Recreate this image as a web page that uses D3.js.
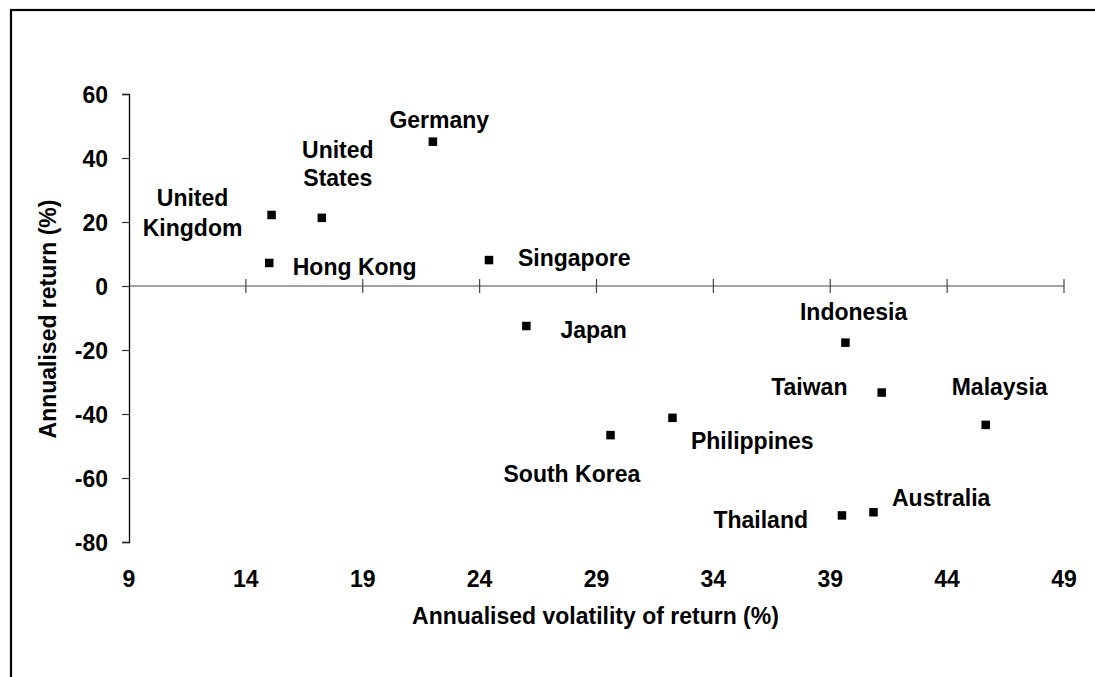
<!DOCTYPE html>
<html>
<head>
<meta charset="utf-8">
<script src="https://cdn.jsdelivr.net/npm/d3@7"></script>
<style>
  html, body { margin: 0; padding: 0; background: #fff; overflow: hidden; }
  svg { display: block; }
  text { font-family: "Liberation Sans", Arial, sans-serif; font-weight: bold; fill: #000; }
</style>
</head>
<body>
<svg id="chart" width="1095" height="677"></svg>
<script>
// ---- data ----
const countries = ["United Kingdom", "United States", "Hong Kong", "Germany", "Singapore", "Japan",
                   "South Korea", "Philippines", "Indonesia", "Taiwan", "Thailand", "Australia", "Malaysia"];
const volatility = [15.1, 17.25, 15.0, 22.0, 24.4, 26.0, 29.6, 32.25, 39.65, 41.2, 39.5, 40.85, 45.65];
const annualReturn = [22.2, 21.3, 7.2, 45.1, 8.1, -12.5, -46.6, -41.2, -17.7, -33.3, -71.7, -70.7, -43.4];
const xTicks = [9, 14, 19, 24, 29, 34, 39, 44, 49];
const yTicks = [-80, -60, -40, -20, 0, 20, 40, 60];
const xTitle = "Annualised volatility of return (%)";
const yTitle = "Annualised return (%)";

// ---- label placement (pixel offsets from each marker) ----
const labelLayout = {
  "United Kingdom": { lines: ["United", "Kingdom"], dx: -79, dy: -8.5, anchor: "middle", lh: 30 },
  "United States":  { lines: ["United", "States"], dx: 16, dy: -59.5, anchor: "middle", lh: 28 },
  "Hong Kong":      { dx: 23.5, dy: 12 },
  "Germany":        { dx: -43.5, dy: -13.5 },
  "Singapore":      { dx: 29, dy: 5.5 },
  "Japan":          { dx: 34, dy: 12 },
  "South Korea":    { dx: -107, dy: 46.5 },
  "Philippines":    { dx: 18.5, dy: 31.5 },
  "Indonesia":      { dx: -45.5, dy: -23 },
  "Taiwan":         { dx: -110.5, dy: 2 },
  "Thailand":       { dx: -128.5, dy: 12.5 },
  "Australia":      { dx: 18.5, dy: -6.5 },
  "Malaysia":       { dx: -34, dy: -30 }
};

const svg = d3.select("#chart");
const FS = 23;

// outer frame (left and top edges visible)
svg.append("rect").attr("x", 11).attr("y", 10).attr("width", 1200).attr("height", 800)
  .attr("fill", "none").attr("stroke", "#000").attr("stroke-width", 2.2);

const x = d3.scaleLinear().domain([9, 49]).range([129, 1064]);
const y = d3.scaleLinear().domain([-80, 60]).range([542, 94]);

// x axis at y = 0 with crossing ticks
const xAxisG = svg.append("g").attr("transform", `translate(0,${y(0)})`);
xAxisG.append("line").attr("x1", x(9)).attr("x2", x(49)).attr("y1", 0).attr("y2", 0)
  .attr("stroke", "#444").attr("stroke-width", 1.2);
xAxisG.selectAll("line.tick").data(xTicks.slice(1)).join("line")
  .attr("class", "tick")
  .attr("x1", d => x(d)).attr("x2", d => x(d)).attr("y1", -7).attr("y2", 7)
  .attr("stroke", "#444").attr("stroke-width", 1.2);

// x tick labels at bottom
svg.append("g").selectAll("text").data(xTicks).join("text")
  .attr("x", d => x(d)).attr("y", 587)
  .attr("text-anchor", "middle").style("font-size", FS + "px")
  .text(d => String(d));

// y axis
const yAxis = d3.axisLeft(y).tickValues(yTicks).tickSize(7).tickPadding(14).tickFormat(d => String(d));
const yAxisG = svg.append("g").attr("transform", `translate(${x(9)},0)`).call(yAxis);
yAxisG.select(".domain").attr("stroke", "#000").attr("stroke-width", 1.3);
yAxisG.selectAll(".tick line").attr("stroke", "#333").attr("stroke-width", 1.2);
yAxisG.selectAll(".tick text")
  .attr("font-family", null).attr("font-size", null)
  .style("font-size", FS + "px").attr("dy", "0.36em");

// axis titles
svg.append("text").attr("x", 595.5).attr("y", 624).attr("text-anchor", "middle")
  .style("font-size", FS + "px").text(xTitle);
svg.append("text").attr("transform", "translate(56,319) rotate(-90)").attr("text-anchor", "middle")
  .style("font-size", FS + "px").text(yTitle);

// points
const pts = countries.map((c, i) => ({ name: c, vx: volatility[i], vy: annualReturn[i] }));
const S = 8.5;
svg.append("g").selectAll("rect").data(pts).join("rect")
  .attr("x", d => x(d.vx) - S / 2).attr("y", d => y(d.vy) - S / 2)
  .attr("width", S).attr("height", S).attr("fill", "#000");

// labels
const lg = svg.append("g");
pts.forEach(d => {
  const L = labelLayout[d.name];
  const t = lg.append("text")
    .attr("x", x(d.vx) + L.dx).attr("y", y(d.vy) + L.dy)
    .attr("text-anchor", L.anchor || "start")
    .style("font-size", FS + "px");
  if (L.lines) {
    L.lines.forEach((ln, k) => {
      t.append("tspan").attr("x", x(d.vx) + L.dx).attr("y", y(d.vy) + L.dy + k * L.lh).text(ln);
    });
  } else {
    t.text(d.name);
  }
});
</script>
</body>
</html>
